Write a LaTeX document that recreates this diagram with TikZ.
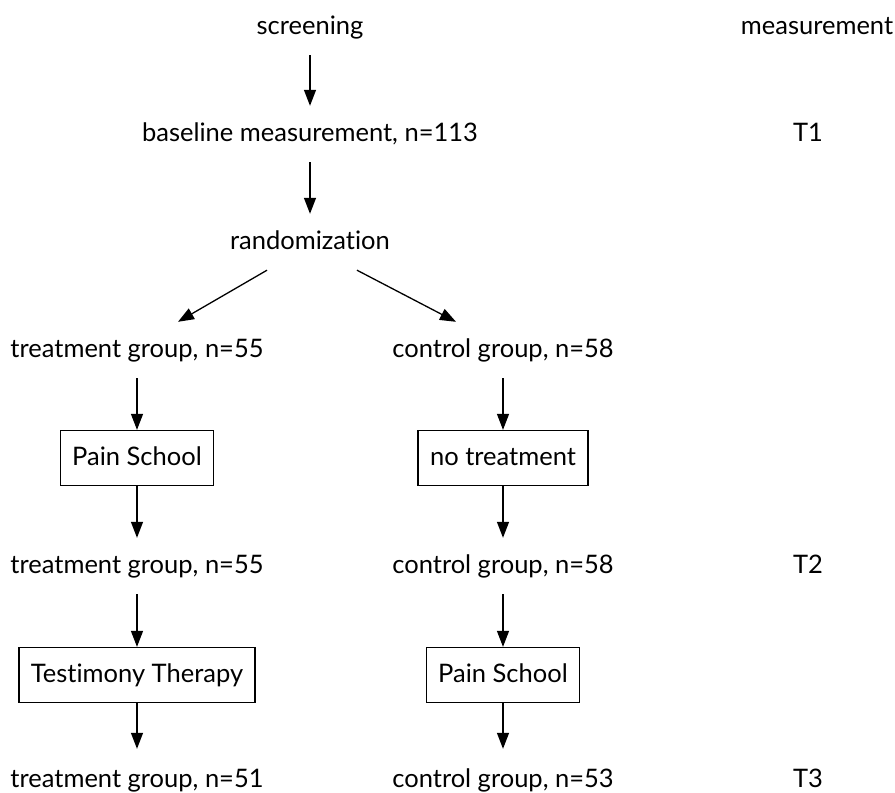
\documentclass[tikz,border=0pt]{standalone}
\usepackage{fontspec}
\setmainfont[RawFeature=-liga]{Lato}
\usetikzlibrary{positioning,arrows.meta}
\tikzset{
  node-text/.style={minimum height=56pt,inner sep=0pt,
    text height=20pt,text depth=6pt,
    font=\fontsize{25.5}{30}\selectfont},
  node-box/.style={node-text,draw,line width=1.3pt,minimum height=55pt,
    inner xsep=12pt},
  arrow/.style={-{Triangle[length=16pt,width=12pt]},line width=1.3pt},
}

\begin{document}
\begin{tikzpicture}[x=1pt,y=1pt]
  \useasboundingbox (0,0) rectangle (895,-793);
  % flow
  \node[node-text] (scr)  at (310,-27)  {screening};
  \node[node-text] (base) at (310,-134) {baseline measurement, n=113};
  \node[node-text] (rand) at (310,-242) {randomization};
  \node[node-text] (tg1)  at (137,-350) {treatment group, n=55};
  \node[node-text] (cg1)  at (503,-350) {control group, n=58};
  \node[node-box]  (ps1)  at (137,-458) {Pain School};
  \node[node-box]  (nt)   at (503,-458) {no treatment};
  \node[node-text] (tg2)  at (137,-566) {treatment group, n=55};
  \node[node-text] (cg2)  at (503,-566) {control group, n=58};
  \node[node-box]  (tt)   at (137,-675) {Testimony Therapy};
  \node[node-box]  (ps2)  at (503,-675) {Pain School};
  \node[node-text] (tg3)  at (137,-780) {treatment group, n=51};
  \node[node-text] (cg3)  at (503,-780) {control group, n=53};
  % measurement column
  \node[node-text] (meas) at (817,-27)  {measurement};
  \node[node-text] (t1)   at (808,-134) {T1};
  \node[node-text] (t2)   at (808,-566) {T2};
  \node[node-text] (t3)   at (808,-780) {T3};
  \draw[arrow] (scr) -- (base);
  \draw[arrow] (base) -- (rand);
  \draw[arrow] ([xshift=-43pt]rand.south) -- ([xshift=41pt]tg1.north);
  \draw[arrow] ([xshift=47pt]rand.south) -- ([xshift=-47pt]cg1.north);
  \draw[arrow] (tg1) -- (ps1);
  \draw[arrow] (ps1) -- (tg2);
  \draw[arrow] (tg2) -- (tt);
  \draw[arrow] (tt) -- ([yshift=3pt]tg3.north);
  \draw[arrow] (cg1) -- (nt);
  \draw[arrow] (nt) -- (cg2);
  \draw[arrow] (cg2) -- (ps2);
  \draw[arrow] (ps2) -- ([yshift=3pt]cg3.north);
\end{tikzpicture}
\end{document}
